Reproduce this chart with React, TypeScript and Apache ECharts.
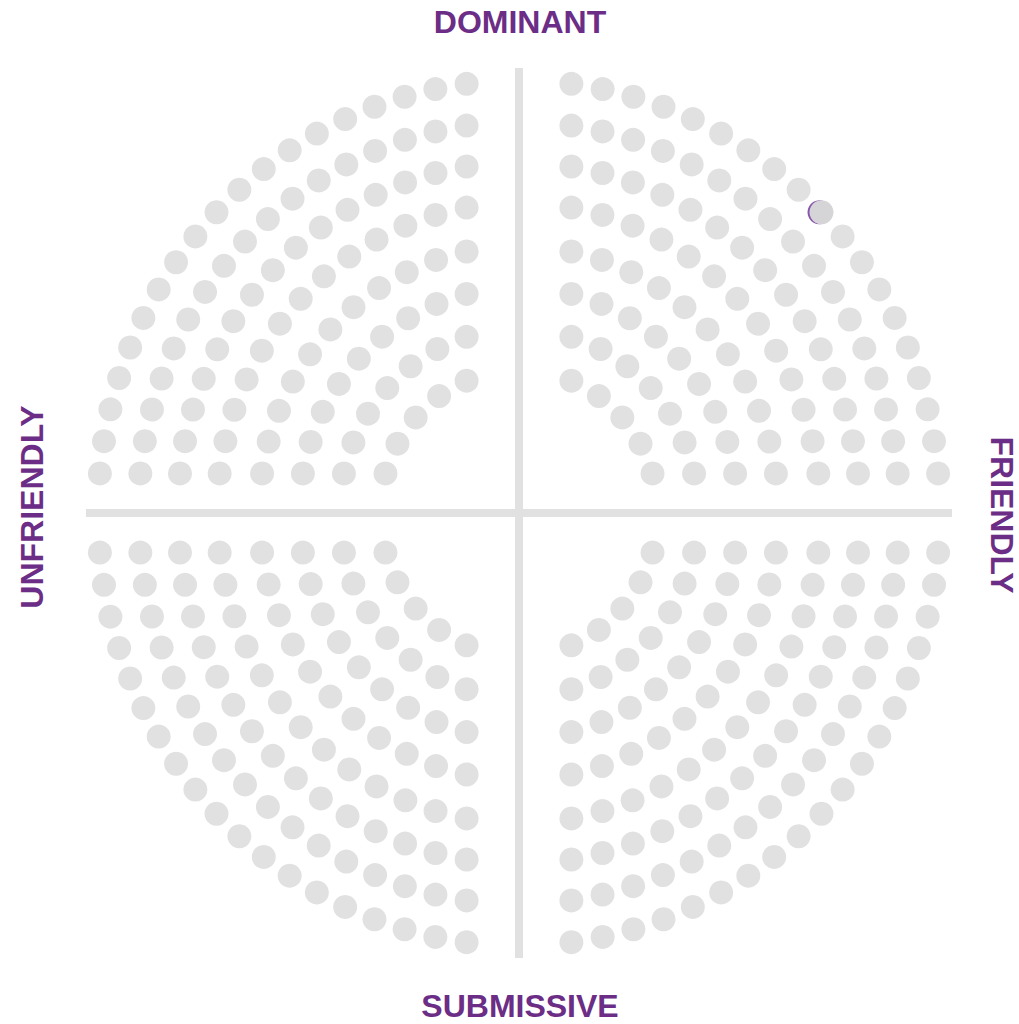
import React, { useEffect, useRef } from "react";
import * as echarts from "echarts";

// Ring layout (data units, centre = 0,0, axes span -1..1)
const RING_RADII = [0.972, 0.879, 0.788, 0.697, 0.6, 0.507, 0.414, 0.321];
const RING_COUNTS = [19, 17, 15, 13, 11, 9, 7, 5];
// quadrant signs: dominant-friendly, dominant-unfriendly, submissive-unfriendly, submissive-friendly
const QUADRANT_SIGNS = [
  [1, 1],
  [-1, 1],
  [-1, -1],
  [1, -1],
];
const GAP_X = 0.121; // clearance from vertical axis
const GAP_Y = 0.089; // clearance from horizontal axis
const HIGHLIGHT = { quadrant: 0, ring: 0, index: 9 };
const LABEL_TOP = "DOMINANT";
const LABEL_BOTTOM = "SUBMISSIVE";
const LABEL_LEFT = "UNFRIENDLY";
const LABEL_RIGHT = "FRIENDLY";

const PURPLE = "#6b2d86";
const DOT = "#e1e1e1";

function buildDots() {
  const normal: number[][] = [];
  let highlight: number[] | null = null;
  QUADRANT_SIGNS.forEach(([sx, sy], q) => {
    RING_RADII.forEach((r, k) => {
      const n = RING_COUNTS[k];
      const tStart = Math.acos(GAP_X / r);
      const tEnd = Math.asin(GAP_Y / r);
      for (let i = 0; i < n; i++) {
        const t = tStart - ((tStart - tEnd) * i) / (n - 1);
        const p = [sx * r * Math.cos(t), sy * r * Math.sin(t)];
        if (q === HIGHLIGHT.quadrant && k === HIGHLIGHT.ring && i === HIGHLIGHT.index) {
          highlight = p;
        } else {
          normal.push(p);
        }
      }
    });
  });
  return { normal, highlight: highlight as unknown as number[] };
}

export default function App() {
  const ref = useRef<HTMLDivElement>(null);
  useEffect(() => {
    if (!ref.current) return;
    const chart = echarts.init(ref.current, undefined, { renderer: "svg" });
    const { normal, highlight } = buildDots();
    const font = '"Liberation Sans", Arial, Helvetica, sans-serif';
    const textStyle = (text: string) => ({
      text,
      fill: PURPLE,
      fontSize: 32,
      fontWeight: "bold",
      fontFamily: font,
      lineHeight: 30,
      align: "center",
      verticalAlign: "middle",
    });
    chart.setOption({
      animation: false,
      backgroundColor: "#ffffff",
      grid: { left: 86, top: 68, width: 866, height: 890 },
      xAxis: { type: "value", min: -1, max: 1, show: false },
      yAxis: { type: "value", min: -1, max: 1, show: false },
      series: [
        {
          type: "line",
          data: [
            [0, -1],
            [0, 1],
          ],
          symbol: "none",
          lineStyle: { color: DOT, width: 8, cap: "butt" },
          silent: true,
          z: 1,
        },
        {
          type: "line",
          data: [
            [-1, 0],
            [1, 0],
          ],
          symbol: "none",
          lineStyle: { color: DOT, width: 8, cap: "butt" },
          silent: true,
          z: 1,
        },
        {
          type: "scatter",
          data: normal,
          symbolSize: 24,
          itemStyle: { color: DOT, opacity: 1 },
          z: 2,
        },
        {
          type: "scatter",
          data: [highlight],
          symbolSize: 24,
          symbolOffset: [-2, 0],
          itemStyle: { color: "#8a55ad", opacity: 1 },
          z: 3,
        },
        {
          type: "scatter",
          data: [highlight],
          symbolSize: 24,
          itemStyle: { color: "#d5d5d7", opacity: 1 },
          z: 4,
        },
      ],
      graphic: [
        { type: "text", x: 520, y: 22, style: textStyle(LABEL_TOP) },
        { type: "text", x: 520, y: 1006, style: textStyle(LABEL_BOTTOM) },
        { type: "text", x: 32, y: 507, rotation: Math.PI / 2, style: textStyle(LABEL_LEFT) },
        { type: "text", x: 1002, y: 515, rotation: -Math.PI / 2, style: textStyle(LABEL_RIGHT) },
      ],
    });
    return () => chart.dispose();
  }, []);
  return (
    <div
      ref={ref}
      style={{ position: "absolute", left: 0, top: 0, width: 1019, height: 1024 }}
    />
  );
}
